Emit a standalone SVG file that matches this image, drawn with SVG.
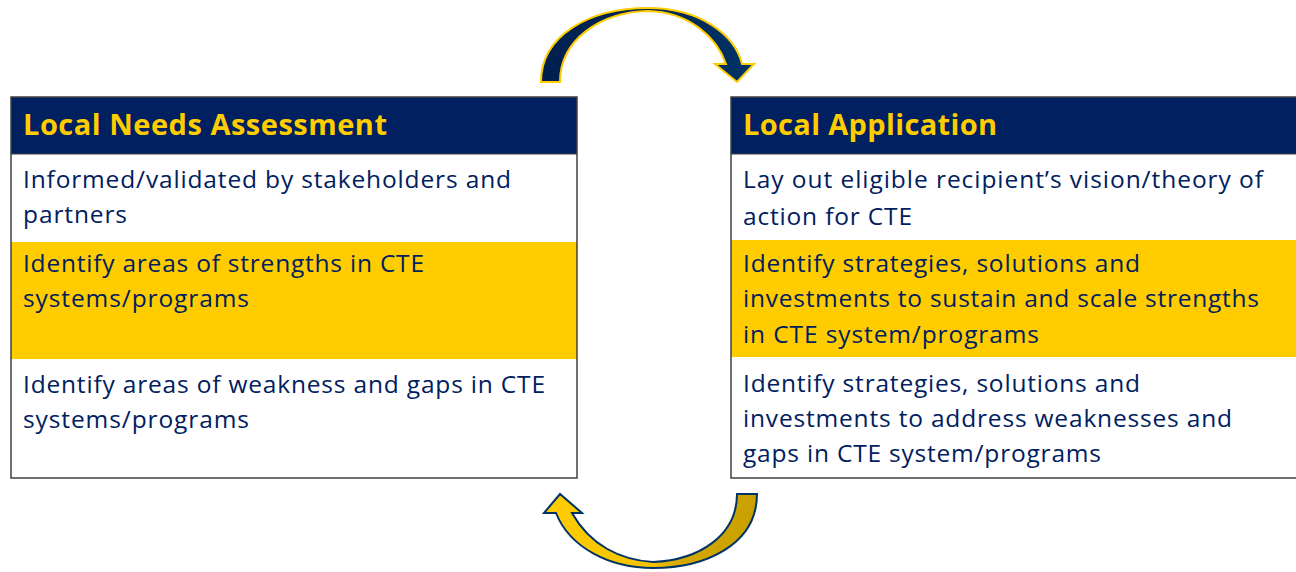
<svg xmlns="http://www.w3.org/2000/svg" width="1296" height="572" viewBox="0 0 1296 572">
<style>
.hdr{fill:#002060}
.band{fill:#FFCC00}
.cell{fill:#FFFFFF}
.frame{fill:none;stroke:#404040;stroke-width:1.5}
.sep{stroke:#404040;stroke-width:1.2}
.ttl{font-family:"Open Sans","Liberation Sans",sans-serif;font-weight:bold;font-size:29px;fill:#FFCC00}
.txt{font-family:"Open Sans","Liberation Sans",sans-serif;font-size:24.5px;fill:#002060}
</style>
<defs>
<linearGradient id="gold" x1="544" y1="0" x2="757" y2="0" gradientUnits="userSpaceOnUse">
<stop offset="0" stop-color="#FFCC00"/>
<stop offset="0.5" stop-color="#F5C400"/>
<stop offset="0.65" stop-color="#D4A800"/>
<stop offset="1" stop-color="#C9A000"/>
</linearGradient>
<linearGradient id="navy" x1="541" y1="0" x2="754" y2="0" gradientUnits="userSpaceOnUse">
<stop offset="0" stop-color="#00204E"/>
<stop offset="0.5" stop-color="#002654"/>
<stop offset="1" stop-color="#003366"/>
</linearGradient>
</defs>

<g id="connectors">
<path id="arrow-top" d="M 541,82 C 541,35 590,8 648,8 C 700,8 735,35 742,64 L 754,64 L 737,82 L 715,64 L 726,64 C 717,38 690,12 648,11 C 600,12 560,40 560,82 Z" fill="url(#navy)" stroke="#FFCC00" stroke-width="2" stroke-linejoin="miter"/>
<path id="arrow-bottom" d="M 757,494 C 757,545 705,568 653,568 C 610,568 570,548 556,513 L 544,513 L 560,494 L 582,513 L 572,513 C 590,545 620,560 653,562 C 700,560 737,535 737,494 Z" fill="url(#gold)" stroke="#003366" stroke-width="2" stroke-linejoin="miter"/>
</g>

<g id="local-needs-assessment">
<rect class="hdr" x="11" y="97" width="566" height="57"/>
<rect class="cell" x="11" y="154" width="566" height="88"/>
<rect class="band" x="11" y="242" width="566" height="117"/>
<rect class="cell" x="11" y="359" width="566" height="119"/>
<line class="sep" x1="11" y1="154" x2="577" y2="154"/>
<rect class="frame" x="11" y="97" width="566" height="381"/>
<text class="ttl" x="23" y="135" textLength="364">Local Needs Assessment</text>
<text class="txt" x="23" y="188" textLength="488">Informed/validated by stakeholders and</text>
<text class="txt" x="23" y="223" textLength="104">partners</text>
<text class="txt" x="23" y="272" textLength="401">Identify areas of strengths in CTE</text>
<text class="txt" x="23" y="307" textLength="226">systems/programs</text>
<text class="txt" x="23" y="393" textLength="522">Identify areas of weakness and gaps in CTE</text>
<text class="txt" x="23" y="428" textLength="226">systems/programs</text>
</g>

<g id="local-application">
<rect class="hdr" x="731" y="97" width="570" height="57"/>
<rect class="cell" x="731" y="154" width="570" height="86"/>
<rect class="band" x="731" y="240" width="570" height="117"/>
<rect class="cell" x="731" y="357" width="570" height="121"/>
<line class="sep" x1="731" y1="154" x2="1301" y2="154"/>
<rect class="frame" x="731" y="97" width="570" height="381"/>
<text class="ttl" x="743" y="135" textLength="254">Local Application</text>
<text class="txt" x="743" y="188" textLength="520">Lay out eligible recipient’s vision/theory of</text>
<text class="txt" x="743" y="225" textLength="169">action for CTE</text>
<text class="txt" x="743" y="272" textLength="397">Identify strategies, solutions and</text>
<text class="txt" x="743" y="307" textLength="516">investments to sustain and scale strengths</text>
<text class="txt" x="743" y="343" textLength="296">in CTE system/programs</text>
<text class="txt" x="743" y="392" textLength="397">Identify strategies, solutions and</text>
<text class="txt" x="743" y="427" textLength="489">investments to address weaknesses and</text>
<text class="txt" x="743" y="462" textLength="358">gaps in CTE system/programs</text>
</g>
</svg>
